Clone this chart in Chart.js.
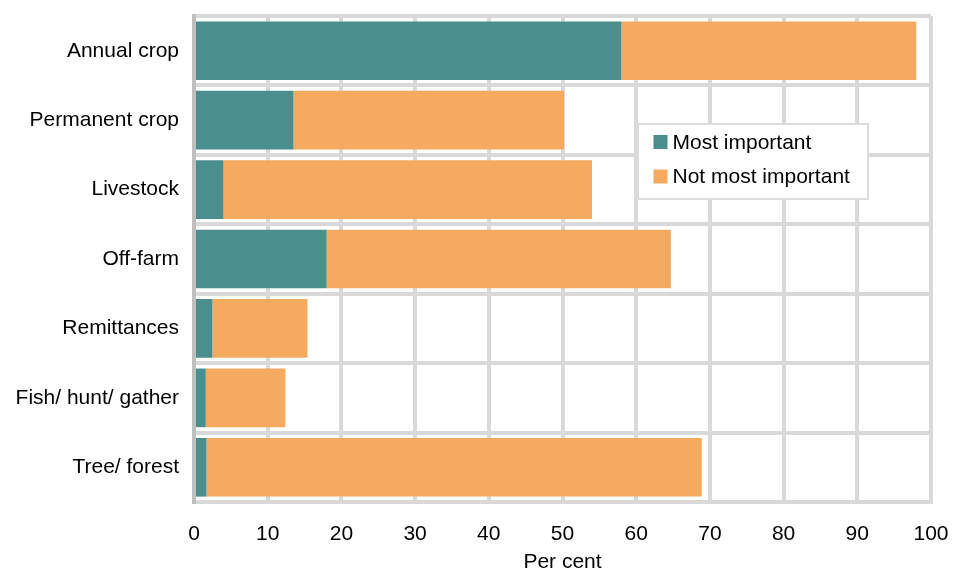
<!DOCTYPE html>
<html>
<head>
<meta charset="utf-8">
<script src="https://cdn.jsdelivr.net/npm/chart.js@4/dist/chart.umd.min.js"></script>
<style>
html,body{margin:0;padding:0;background:#fff;}
#wrap{width:957px;height:570px;position:relative;}
</style>
</head>
<body>
<div id="wrap"><canvas id="c" width="957" height="570"></canvas></div>
<script>
const categories = ["Annual crop", "Permanent crop", "Livestock", "Off-farm", "Remittances", "Fish/ hunt/ gather", "Tree/ forest"];
const mostImportant = [58.0, 13.5, 4.0, 18.0, 2.5, 1.6, 1.7];
const notMostImportant = [40.0, 36.7, 50.0, 46.7, 12.9, 10.8, 67.2];
const seriesNames = ["Most important", "Not most important"];
const seriesColors = ["#4a8f8d", "#f6aa5f"];
const xTicks = [0, 10, 20, 30, 40, 50, 60, 70, 80, 90, 100];
const xTitle = "Per cent";

const FONT = "'Liberation Sans', Arial, sans-serif";

function zeroPad(scale) {
  scale.paddingLeft = 0; scale.paddingRight = 0; scale.paddingTop = 0; scale.paddingBottom = 0;
}

const legendPlugin = {
  id: 'boxLegend',
  afterDraw(chart) {
    const ctx = chart.ctx;
    const x0 = 638, y0 = 124, w = 230, h = 75;
    ctx.save();
    ctx.fillStyle = '#ffffff';
    ctx.fillRect(x0, y0, w, h);
    ctx.strokeStyle = '#dcdcdc';
    ctx.lineWidth = 2;
    ctx.strokeRect(x0, y0, w, h);
    ctx.font = '21px ' + FONT;
    ctx.textBaseline = 'middle';
    ctx.textAlign = 'left';
    chart.data.datasets.forEach((ds, i) => {
      const cy = 142 + i * 34.5;
      ctx.fillStyle = ds.backgroundColor;
      ctx.fillRect(653.5, cy - 7, 14, 14);
      ctx.fillStyle = '#000';
      ctx.fillText(ds.label, 672.5, cy + 1);
    });
    ctx.restore();
  }
};

new Chart(document.getElementById('c'), {
  type: 'bar',
  data: {
    labels: categories,
    datasets: [
      { label: seriesNames[0], data: mostImportant, backgroundColor: seriesColors[0], borderWidth: 0 },
      { label: seriesNames[1], data: notMostImportant, backgroundColor: seriesColors[1], borderWidth: 0 }
    ]
  },
  options: {
    indexAxis: 'y',
    responsive: false,
    animation: false,
    layout: { padding: { top: 16, right: 26, bottom: 0, left: 0 } },
    plugins: { legend: { display: false }, tooltip: { enabled: false } },
    datasets: { bar: { categoryPercentage: 1.0, barPercentage: 0.845 } },
    scales: {
      x: {
        stacked: true,
        min: 0, max: 100,
        afterBuildTicks(scale) { scale.ticks = xTicks.map(v => ({ value: v })); },
        afterFit(scale) { scale.height = 68; zeroPad(scale); },
        grid: {
          color: (c) => c.index === 0 ? '#bfbfbf' : '#d9d9d9',
          lineWidth: 4,
          drawTicks: false
        },
        border: { color: '#d9d9d9', width: 4 },
        ticks: { color: '#000', font: { family: FONT, size: 21 }, padding: 20 },
        title: { display: true, text: xTitle, color: '#000', font: { family: FONT, size: 21 }, padding: { top: 0, bottom: -5 } }
      },
      y: {
        stacked: true,
        afterFit(scale) { scale.width = 194; zeroPad(scale); },
        grid: { color: '#d9d9d9', lineWidth: 4, drawTicks: false, offset: true },
        border: { color: '#bfbfbf', width: 4 },
        ticks: { color: '#000', font: { family: FONT, size: 21 }, padding: 15 }
      }
    }
  },
  plugins: [legendPlugin]
});
</script>
</body>
</html>
